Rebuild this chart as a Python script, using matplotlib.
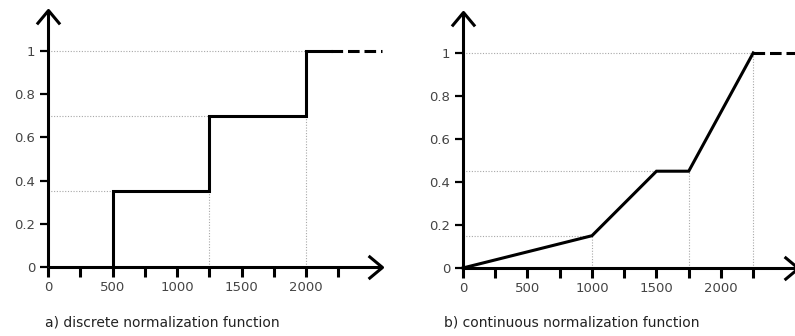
import matplotlib.pyplot as plt
from matplotlib.path import Path

# discrete normalization function (step)
disc_steps = [500, 1250, 2000]
disc_levels = [0.35, 0.7, 1.0]
disc_solid_end = 2190
disc_dash_end = 2590

# continuous normalization function (piecewise linear)
cont_x = [0, 1000, 1500, 1750, 2250]
cont_y = [0, 0.15, 0.45, 0.45, 1.0]
cont_dash_end = 2650

x_ticks = [0, 250, 500, 750, 1000, 1250, 1500, 1750, 2000, 2250]
x_labels = ['0', '', '500', '', '1000', '', '1500', '', '2000', '']
y_ticks = [0, 0.2, 0.4, 0.6, 0.8, 1.0]
y_labels = ['0', '0.2', '0.4', '0.6', '0.8', '1']

captions = ['a) discrete normalization function',
            'b) continuous normalization function']

W, H = 795, 336
LW = 2.2
GUIDE = dict(color='#a8a8a8', lw=0.8, ls=(0, (1, 1.5)), zorder=1)
TICK_COL = '#444444'

# open chevrons for the axis arrow heads (tip at 0,0)
right_head = Path([(-1.2, 1), (0, 0), (-1.2, -1)],
                  [Path.MOVETO, Path.LINETO, Path.LINETO])
up_head = Path([(-1, -1.2), (0, 0), (1, -1.2)],
               [Path.MOVETO, Path.LINETO, Path.LINETO])


def setup(ax, xlim, ylim, x_tip, y_tip):
    ax.set_xlim(*xlim)
    ax.set_ylim(*ylim)
    for s in ['top', 'right']:
        ax.spines[s].set_visible(False)
    ax.spines['bottom'].set_position(('data', 0))
    ax.spines['left'].set_position(('data', 0))
    ax.spines['bottom'].set_bounds(0, x_tip)
    ax.spines['left'].set_bounds(0, y_tip)
    for s in ['bottom', 'left']:
        ax.spines[s].set_linewidth(LW)
        ax.spines[s].set_capstyle('butt')
    ax.set_xticks(x_ticks)
    ax.set_xticklabels(x_labels)
    ax.set_yticks(y_ticks)
    ax.set_yticklabels(y_labels)
    ax.tick_params(axis='x', direction='out', length=7, width=LW, pad=3,
                   labelsize=9.5, labelcolor=TICK_COL)
    ax.tick_params(axis='y', direction='out', length=6, width=1.6, pad=3,
                   labelsize=9.5, labelcolor=TICK_COL)
    ax.patch.set_visible(False)
    head = dict(ms=20, mfc='none', mec='black', mew=LW, clip_on=False,
                ls='none', zorder=5)
    ax.plot([x_tip], [0], marker=right_head, **head)
    ax.plot([0], [y_tip], marker=up_head, **head)


fig = plt.figure(figsize=(W / 100, H / 100), dpi=100)

# left panel: pixels x 30..390, y 5..280
ax1 = fig.add_axes([30 / W, (H - 280) / H, 360 / W, 275 / H])
setup(ax1, (-139.5, 2651), (-0.060, 1.213), 2590, 1.19)

prev_level = 0
for x, lvl in zip(disc_steps, disc_levels):
    ax1.plot([0, x], [lvl, lvl], **GUIDE)
    if prev_level > 0:
        ax1.plot([x, x], [0, prev_level], **GUIDE)
    prev_level = lvl

sx, sy = [disc_steps[0]], [0]
for i, (x, lvl) in enumerate(zip(disc_steps, disc_levels)):
    nxt = disc_steps[i + 1] if i + 1 < len(disc_steps) else disc_solid_end
    sx += [x, nxt]
    sy += [lvl, lvl]
ax1.plot(sx, sy, color='black', lw=LW, solid_joinstyle='miter', zorder=3)
ax1.plot([disc_solid_end, disc_dash_end], [disc_levels[-1]] * 2,
         color='black', lw=LW, ls=(0, (3.8, 1.6)), dash_capstyle='butt', zorder=3)

# right panel: pixels x 445..795, y 5..280
ax2 = fig.add_axes([445 / W, (H - 280) / H, 350 / W, 275 / H])
setup(ax2, (-139.5, 2574), (-0.056, 1.223), 2600, 1.19)

for i in range(1, len(cont_x)):
    if cont_y[i] != cont_y[i - 1] or i == len(cont_x) - 1:
        ax2.plot([0, cont_x[i]], [cont_y[i], cont_y[i]], **GUIDE)
    if cont_y[i] == cont_y[i - 1] or i == 1 or i == len(cont_x) - 1:
        ax2.plot([cont_x[i], cont_x[i]], [0, cont_y[i]], **GUIDE)

ax2.plot(cont_x, cont_y, color='black', lw=LW, solid_joinstyle='miter', zorder=3)
ax2.plot([cont_x[-1], cont_dash_end], [cont_y[-1]] * 2, color='black', lw=LW,
         ls=(0, (3.8, 1.6)), dash_capstyle='butt', zorder=3, clip_on=False)

fig.text(45 / W, 1 - 322 / H, captions[0], ha='left', va='center',
         fontsize=10, color='#222222')
fig.text(444 / W, 1 - 322 / H, captions[1], ha='left', va='center',
         fontsize=10, color='#222222')

fig.savefig('out.png', dpi=100)
